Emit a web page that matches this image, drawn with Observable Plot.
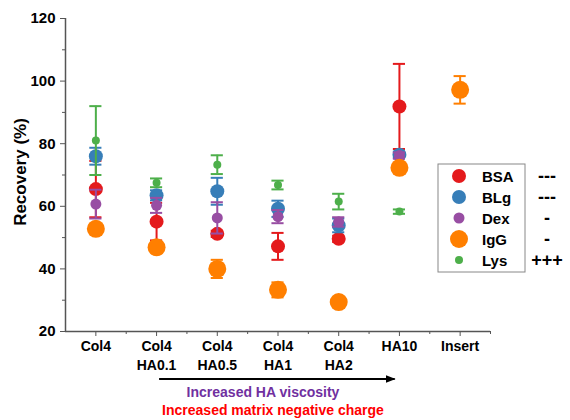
<!DOCTYPE html>
<html>
<head>
<meta charset="utf-8">
<script src="https://cdn.jsdelivr.net/npm/d3@7"></script>
<script src="https://cdn.jsdelivr.net/npm/@observablehq/plot@0.6"></script>
<style>
  html, body { margin: 0; padding: 0; background: #fff; }
  svg { display: block; }
</style>
</head>
<body>
<div id="chart"></div>
<script>
// ---- data ----
const categories = ["Col4", "Col4\nHA0.1", "Col4\nHA0.5", "Col4\nHA1", "Col4\nHA2", "HA10", "Insert"];
const seriesNames = ["BSA", "BLg", "Dex", "IgG", "Lys"];
const charges = ["---", "---", "-", "-", "+++"];
const BSA     = [65.5, 55.1, 51.2, 47.2, 49.6, 91.9, null];
const BSA_err = [9.0, 6.0, 1.0, 4.3, 1.0, 13.6, null];
const BLg     = [76.0, 63.5, 64.8, 59.2, 53.9, 76.5, null];
const BLg_err = [2.7, 1.6, 4.3, 2.6, 2.2, 1.0, null];
const Dex     = [60.7, 60.3, 56.3, 56.7, 55.0, 76.2, null];
const Dex_err = [4.6, 2.4, 5.0, 2.1, 1.5, 1.0, null];
const IgG     = [52.8, 46.9, 40.0, 33.3, 29.4, 72.3, 97.2];
const IgG_err = [1.0, 1.0, 2.9, 2.4, 0.8, 1.0, 4.4];
const Lys     = [81.0, 67.5, 73.3, 66.8, 61.5, 58.3, null];
const Lys_err = [11.0, 1.4, 3.0, 1.4, 2.5, 0.7, null];
const yTicks = [20, 40, 60, 80, 100, 120];
const yMinor = [30, 50, 70, 90, 110];

// ---- styles ----
const colors = {BSA: "#E41A1C", BLg: "#377EB8", Dex: "#984EA3", IgG: "#FF7F00", Lys: "#4DAF4A"};
const radii  = {BSA: 7, BLg: 7, Dex: 5.5, IgG: 9, Lys: 4};
const valuesBy = {BSA, BLg, Dex, IgG, Lys};
const errBy = {BSA: BSA_err, BLg: BLg_err, Dex: Dex_err, IgG: IgG_err, Lys: Lys_err};

const rows = [];
for (const s of seriesNames) {
  valuesBy[s].forEach((v, i) => {
    if (v != null) rows.push({series: s, x: i + 1, y: v, lo: v - errBy[s][i], hi: v + errBy[s][i]});
  });
}
const capHalf = 0.1;
const xIdx = categories.map((_, i) => i + 1);
const xMinor = categories.map((_, i) => i + 1.5);

const marks = [];
for (const s of seriesNames) {
  const d = rows.filter(r => r.series === s);
  const c = colors[s];
  marks.push(Plot.ruleX(d, {x: "x", y1: "lo", y2: "hi", stroke: c, strokeWidth: 2}));
  marks.push(Plot.ruleY(d, {y: "hi", x1: r => r.x - capHalf, x2: r => r.x + capHalf, stroke: c, strokeWidth: 2}));
  marks.push(Plot.ruleY(d, {y: "lo", x1: r => r.x - capHalf, x2: r => r.x + capHalf, stroke: c, strokeWidth: 2}));
  marks.push(Plot.dot(d, {x: "x", y: "y", r: radii[s], fill: c, stroke: "none"}));
}

const axisColor = "#555";
const plot = Plot.plot({
  width: 570,
  height: 420,
  marginLeft: 65,
  marginRight: 80,
  marginTop: 18,
  marginBottom: 89,
  x: {domain: [0.5, 7.5]},
  y: {domain: [20, 120]},
  style: {fontFamily: "'Liberation Sans', Arial, sans-serif", fontWeight: "bold", color: "#000", background: "#fff"},
  marks: [
    Plot.axisY({ticks: yTicks, tickSize: 5, tickPadding: 5, fontSize: 15, label: null, stroke: axisColor, fill: "#000"}),
    Plot.axisY({ticks: yMinor, tickSize: 3, tickFormat: () => "", label: null, stroke: axisColor}),
    Plot.axisX({ticks: xIdx, tickSize: 5, tickPadding: 2, fontSize: 14, lineHeight: 1.3,
      tickFormat: i => categories[i - 1], label: null, stroke: axisColor, fill: "#000"}),
    Plot.axisX({ticks: xMinor, tickSize: 3, tickFormat: () => "", label: null, stroke: axisColor}),
    Plot.ruleX([0.5], {stroke: axisColor, strokeWidth: 1.5}),
    Plot.ruleY([20], {stroke: axisColor, strokeWidth: 1.5}),
    ...marks
  ]
});
document.getElementById("chart").appendChild(plot);

// ---- extra annotations (layout) ----
const svg = d3.select(plot);
const xs = plot.scale("x"), ys = plot.scale("y");
const font = "'Liberation Sans', Arial, sans-serif";

// y-axis title
svg.append("text")
  .attr("transform", `translate(22,172) rotate(-90)`)
  .attr("text-anchor", "middle").attr("dominant-baseline", "middle")
  .attr("font-family", font).attr("font-weight", "bold").attr("font-size", 17)
  .text("Recovery (%)");

// arrow
const defs = svg.append("defs");
defs.append("marker").attr("id", "ah").attr("viewBox", "0 0 10 10")
  .attr("refX", 9).attr("refY", 5).attr("markerWidth", 5).attr("markerHeight", 5)
  .attr("orient", "auto").append("path").attr("d", "M0,1 L10,5 L0,9 Z").attr("fill", "#000");
const ax1 = xs.apply(2.05), ax2 = xs.apply(5.93), ay = 379;
svg.append("line").attr("x1", ax1).attr("x2", ax2).attr("y1", ay).attr("y2", ay)
  .attr("stroke", "#000").attr("stroke-width", 2).attr("marker-end", "url(#ah)");
svg.append("text").attr("x", 263).attr("y", 397).attr("text-anchor", "middle")
  .attr("font-family", font).attr("font-weight", "bold").attr("font-size", 14)
  .attr("fill", "#7030A0").text("Increased HA viscosity");
svg.append("text").attr("x", 273).attr("y", 415).attr("text-anchor", "middle")
  .attr("font-family", font).attr("font-weight", "bold").attr("font-size", 14)
  .attr("fill", "#FF0000").text("Increased matrix negative charge");

// legend
const lg = svg.append("g");
lg.append("rect").attr("x", 438).attr("y", 164).attr("width", 87).attr("height", 108)
  .attr("fill", "#fff").attr("stroke", "#888").attr("stroke-width", 1);
seriesNames.forEach((s, i) => {
  const cy = 176 + i * 21;
  lg.append("circle").attr("cx", 459).attr("cy", cy).attr("r", radii[s]).attr("fill", colors[s]);
  lg.append("text").attr("x", 482).attr("y", cy).attr("dominant-baseline", "central").attr("text-anchor", "start")
    .attr("font-family", font).attr("font-weight", "bold").attr("font-size", 15).text(s);
  lg.append("text").attr("x", 547).attr("y", cy).attr("dominant-baseline", "central").attr("text-anchor", "middle")
    .attr("font-family", font).attr("font-weight", "bold").attr("font-size", 18).text(charges[i]);
});
</script>
</body>
</html>
